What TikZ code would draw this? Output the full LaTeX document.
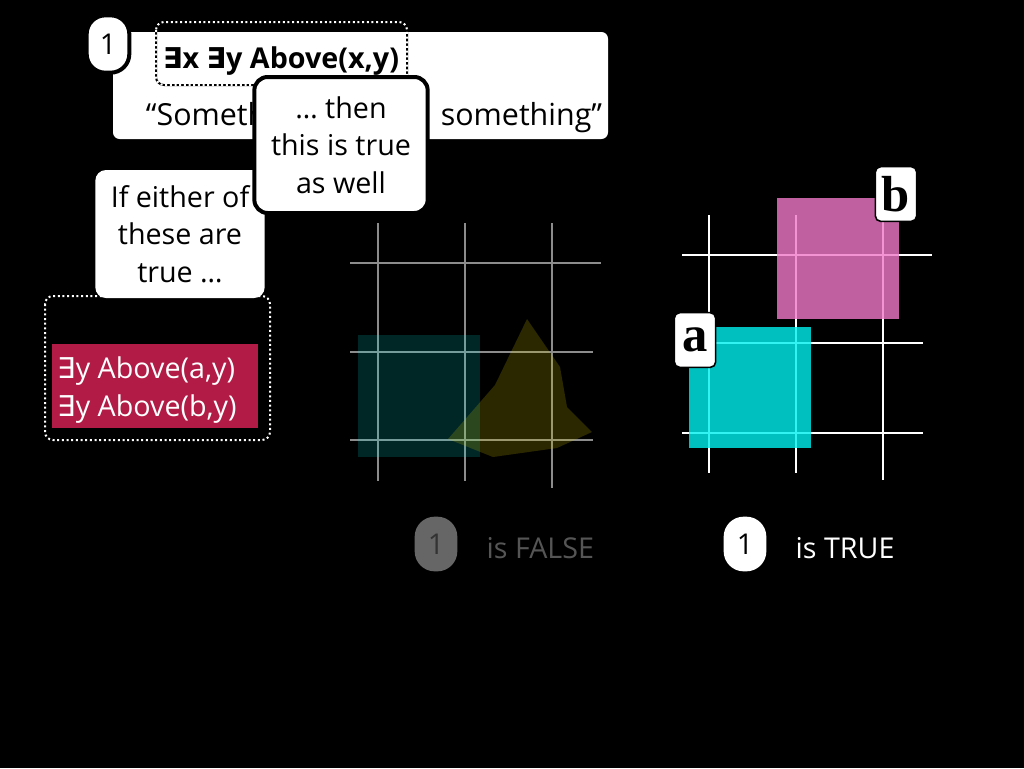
\documentclass[tikz,border=0pt]{standalone}
\usepackage{fontspec}
\setmainfont{Open Sans}
\newfontfamily\symfont{DejaVu Sans}
\newfontfamily\letterfont{Liberation Serif}
\definecolor{claret}{HTML}{B21B45}
\definecolor{dimline}{HTML}{8C8C8C}
\definecolor{dimtext}{HTML}{555555}
\definecolor{cyansq}{HTML}{00EFEF}
\definecolor{pinksq}{HTML}{F078C8}
\definecolor{olivesq}{HTML}{D8CC00}
\tikzset{
	badge/.style={fill=white, draw=black, line width=3pt, rounded corners=14pt, minimum width=32pt, minimum height=43pt, inner sep=0pt},
	pill/.style={rounded corners=15pt, minimum width=32pt, minimum height=41pt, inner sep=0pt},
	bubble/.style={fill=white, rounded corners=8pt, align=center, inner sep=0pt},
	tag/.style={fill=white, draw=black, line width=1.2pt, rounded corners=4pt, minimum width=31pt, minimum height=41pt, inner sep=0pt, font=\letterfont\bfseries\fontsize{38}{38}\selectfont}
}
\newcommand\ex{{\symfont ∃}}
\begin{document}
\begin{tikzpicture}[x=0.75pt, y=-0.75pt, font=\fontsize{21.5}{28}\selectfont]
	\fill[black] (0,0) rectangle (1024,768);
	\fill[white, rounded corners=5pt] (113,32) rectangle (608,139);
	\node[font=\fontsize{22.8}{28}\selectfont] (quote) at (374,118) {“Something is\kern-7pt{} above\kern7pt{} something”};
	\node[font=\fontsize{21.5}{28}\selectfont\bfseries] (formula) at (281,61) {\ex x \ex y Above(x,y)};
	\draw[black, line width=1.5pt, rounded corners=6pt] (156,22) rectangle (407,85);
	\draw[white, line width=1.5pt, dotted, rounded corners=6pt] (156,22) rectangle (407,85);
	\node[badge] (one) at (108,44) {1};
	\node[bubble, minimum width=127pt, minimum height=96pt] (either) at (180,234) {If either of\\these are\\true …};
	\node[bubble, draw=black, line width=3pt, rounded corners=10pt, minimum width=130pt, minimum height=102pt] (then) at (341,145) {… then\\this is true\\as well};
	\draw[white, line width=1.5pt, dotted, rounded corners=6pt] (45,296) rectangle (270,440);
	\fill[claret] (52,344) rectangle (258,428);
	\node[white, anchor=west] (ya) at (53,371) {\ex y Above(a,y)};
	\node[white, anchor=west] (yb) at (53,409) {\ex y Above(b,y)};
	\foreach \x/\y in {378/481, 465/481, 552/488} {
		\draw[dimline, line width=1.5pt] (\x,223) -- (\x,\y);
	}
	\draw[dimline, line width=1.5pt] (350,263) -- (601,263);
	\draw[dimline, line width=1.5pt] (350,352) -- (593,352);
	\draw[dimline, line width=1.5pt] (350,440) -- (593,440);
	\fill[cyansq, fill opacity=0.16] (358,335) rectangle (480,457);
	\fill[olivesq, fill opacity=0.2] (527,319) -- (560,367) -- (567,407) -- (592,432) -- (557,448) -- (493,457) -- (448,439) -- (495,385) -- cycle;
	\foreach \x/\y in {709/473, 796/473, 883/480} {
		\draw[white, line width=1.5pt] (\x,215) -- (\x,\y);
	}
	\draw[white, line width=1.5pt] (682,255) -- (932,255);
	\draw[white, line width=1.5pt] (682,343) -- (923,343);
	\draw[white, line width=1.5pt] (682,433) -- (923,433);
	\fill[pinksq, fill opacity=0.8] (777,198) rectangle (899,319);
	\fill[cyansq, fill opacity=0.8] (689,327) rectangle (811,448);
	\node[tag] (b) at (896,194) {b};
	\node[tag] (a) at (695,340) {a};
	\node[pill, fill=dimtext!90!white, text=black!80] (falseone) at (436,544) {1};
	\node[dimtext, anchor=west] (false) at (482,548) {is FALSE};
	\node[pill, fill=white, text=black] (trueone) at (745,544) {1};
	\node[white, anchor=west] (true) at (791,548) {is TRUE};
\end{tikzpicture}
\end{document}
